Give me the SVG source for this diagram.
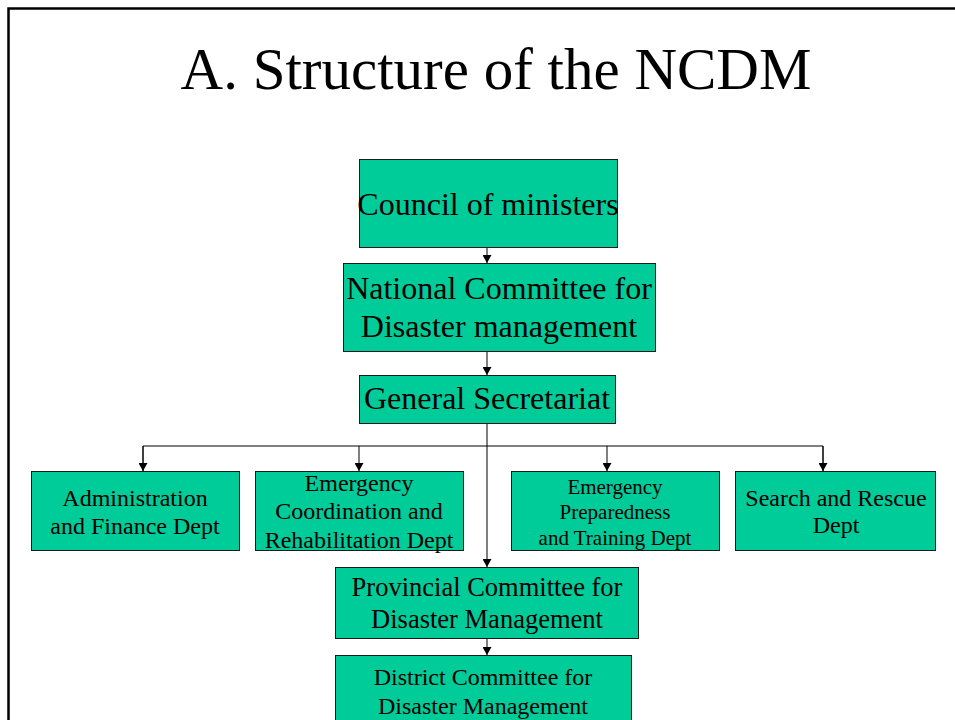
<svg xmlns="http://www.w3.org/2000/svg" width="955" height="720" viewBox="0 0 955 720">
<style>
.box{fill:#00CC99;stroke:#1a1a1a;stroke-width:1}
.t{font-family:"Liberation Serif","Times New Roman",serif;fill:#000;text-anchor:middle}
.c{stroke:#000;stroke-width:1;fill:none}
</style>
<defs>
<marker id="ah" viewBox="0 0 8 9" refX="8" refY="4.5" markerWidth="8" markerHeight="9" markerUnits="userSpaceOnUse" orient="auto">
<path d="M0,0 L8,4.5 L0,9 Z" fill="#000"/>
</marker>
</defs>
<rect width="955" height="720" fill="#fff"/>
<path d="M8.5,720 V8.5 H955" stroke="#000" stroke-width="2.5" fill="none"/>
<text class="t" x="496" y="89" font-size="59">A. Structure of the NCDM</text>
<g id="connectors">
<path class="c" d="M487,247 V263" marker-end="url(#ah)"/>
<path class="c" d="M487,351 V375" marker-end="url(#ah)"/>
<path class="c" d="M487,423 V567" marker-end="url(#ah)"/>
<path class="c" d="M143,471 V446 H823 V471" />
<path class="c" d="M143,446 V471" marker-end="url(#ah)"/>
<path class="c" d="M359,446 V471" marker-end="url(#ah)"/>
<path class="c" d="M607,446 V471" marker-end="url(#ah)"/>
<path class="c" d="M823,446 V471" marker-end="url(#ah)"/>
<path class="c" d="M487,639 V655" marker-end="url(#ah)"/>
</g>
<g id="council">
<rect class="box" x="359.5" y="159.5" width="258" height="88"/>
<text class="t" x="488" y="215" font-size="32">Council of ministers</text>
</g>
<g id="national">
<rect class="box" x="343.5" y="263.5" width="312" height="88"/>
<text class="t" x="499" y="299" font-size="32">National Committee for</text>
<text class="t" x="499" y="337" font-size="32">Disaster management</text>
</g>
<g id="secretariat">
<rect class="box" x="359.5" y="375.5" width="256" height="48"/>
<text class="t" x="487" y="409" font-size="32">General Secretariat</text>
</g>
<g id="admin">
<rect class="box" x="31.5" y="471.5" width="208" height="79"/>
<text class="t" x="135" y="506" font-size="24">Administration</text>
<text class="t" x="135" y="534" font-size="24">and Finance Dept</text>
</g>
<g id="coordination">
<rect class="box" x="255.5" y="471.5" width="208" height="79"/>
<text class="t" x="359" y="491" font-size="24">Emergency</text>
<text class="t" x="359" y="519" font-size="24">Coordination and</text>
<text class="t" x="359" y="548" font-size="24">Rehabilitation Dept</text>
</g>
<g id="preparedness">
<rect class="box" x="511.5" y="471.5" width="208" height="79"/>
<text class="t" x="615" y="494" font-size="21">Emergency</text>
<text class="t" x="615" y="519" font-size="21">Preparedness</text>
<text class="t" x="615" y="545" font-size="21">and Training Dept</text>
</g>
<g id="rescue">
<rect class="box" x="735.5" y="471.5" width="200" height="79"/>
<text class="t" x="836" y="506" font-size="24">Search and Rescue</text>
<text class="t" x="836" y="533" font-size="24">Dept</text>
</g>
<g id="provincial">
<rect class="box" x="335.5" y="567.5" width="303" height="71"/>
<text class="t" x="487" y="596" font-size="26.5">Provincial Committee for</text>
<text class="t" x="487" y="628" font-size="26.5">Disaster Management</text>
</g>
<g id="district">
<rect class="box" x="335.5" y="655.5" width="296" height="80"/>
<text class="t" x="483" y="685" font-size="24">District Committee for</text>
<text class="t" x="483" y="714" font-size="24">Disaster Management</text>
</g>
</svg>
